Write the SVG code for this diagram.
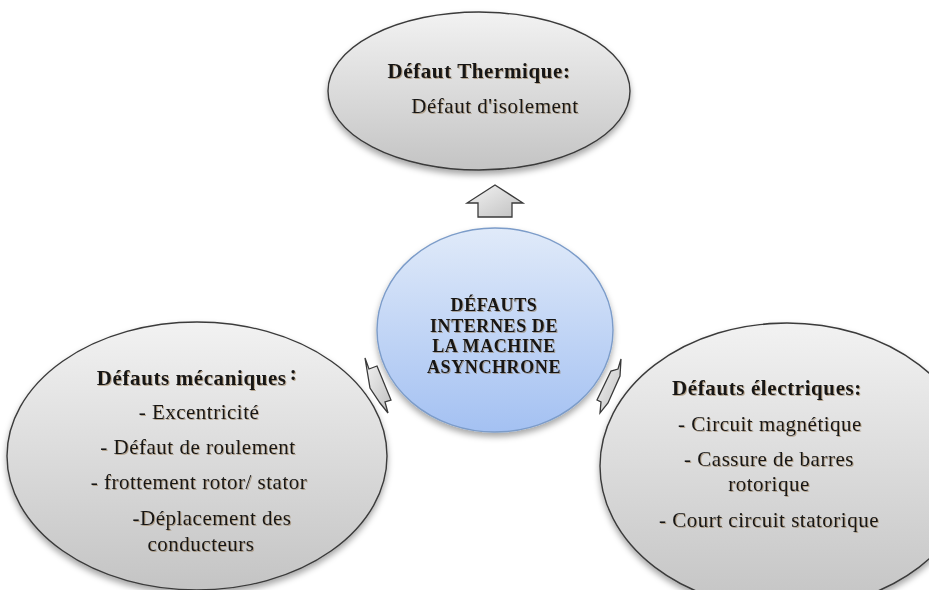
<svg xmlns="http://www.w3.org/2000/svg" width="929" height="590" viewBox="0 0 929 590">
<defs>
<linearGradient id="gGray" x1="0" y1="0" x2="0" y2="1">
<stop offset="0" stop-color="#f2f2f2"/>
<stop offset="1" stop-color="#c4c4c4"/>
</linearGradient>
<linearGradient id="gBlue" x1="0" y1="0" x2="0" y2="1">
<stop offset="0" stop-color="#e0eaf9"/>
<stop offset="1" stop-color="#a4c1f2"/>
</linearGradient>
<linearGradient id="gArrow" x1="0" y1="0" x2="1" y2="1">
<stop offset="0" stop-color="#f4f4f4"/>
<stop offset="1" stop-color="#c0c0c0"/>
</linearGradient>
<filter id="sh" x="-20%" y="-20%" width="140%" height="150%">
<feDropShadow dx="0" dy="4" stdDeviation="3" flood-color="#000" flood-opacity="0.35"/>
</filter>
<filter id="tsh" x="-5%" y="-30%" width="110%" height="160%">
<feDropShadow dx="1" dy="1" stdDeviation="0.6" flood-color="#8a6a40" flood-opacity="0.5"/>
</filter>
</defs>
<style>
.ell{fill:url(#gGray);stroke:#3a3a3a;stroke-width:1.4;filter:url(#sh)}
.ctr{fill:url(#gBlue);stroke:#7c9cc9;stroke-width:1.4;filter:url(#sh)}
.arr{fill:url(#gArrow);stroke:#3a3a3a;stroke-width:1.3;stroke-linejoin:miter}
text{font-family:"Liberation Serif","Times New Roman",serif;fill:#151515;text-anchor:middle;filter:url(#tsh)}
.t{font-size:21px;font-weight:bold;letter-spacing:0.6px}
.r{font-size:21px;letter-spacing:0.5px}
.c{font-size:18px;font-weight:bold;letter-spacing:0.6px}
</style>
<rect width="929" height="590" fill="#ffffff"/>
<g id="connectors">
<polygon class="arr" points="495,185 523,203 512,203 512,217 478,217 478,203 467,203"/>
<polygon class="arr" points="365,358 369,369 377,366 391,400 385,402 388,413 380,403 370,388"/>
<polygon class="arr" points="621,359 620,376 608,403 600,413 601,402 597,400 611,371 618,369"/>
</g>
<g id="node-thermique">
<ellipse class="ell" cx="479" cy="91" rx="151" ry="79"/>
<text class="t" x="479" y="78">Défaut Thermique:</text>
<text class="r" x="495" y="113">Défaut d'isolement</text>
</g>
<g id="node-mecaniques">
<ellipse class="ell" cx="197" cy="456" rx="190" ry="134"/>
<text class="t" x="197" y="385">Défauts mécaniques<tspan dx="3" dy="-5">:</tspan></text>
<text class="r" x="199" y="419">- Excentricité</text>
<text class="r" x="198" y="454">- Défaut de roulement</text>
<text class="r" x="199" y="489">-  frottement rotor/ stator</text>
<text class="r" x="212" y="525">-Déplacement des</text>
<text class="r" x="201" y="551">conducteurs</text>
</g>
<g id="node-electriques">
<ellipse class="ell" cx="787" cy="466" rx="187" ry="143"/>
<text class="t" x="767" y="395">Défauts électriques:</text>
<text class="r" x="770" y="431">- Circuit magnétique</text>
<text class="r" x="769" y="466">- Cassure de barres</text>
<text class="r" x="769" y="491">rotorique</text>
<text class="r" x="769" y="527">- Court circuit statorique</text>
</g>
<g id="node-center">
<ellipse class="ctr" cx="495" cy="330" rx="118" ry="102"/>
<text class="c" x="494" y="311">DÉFAUTS</text>
<text class="c" x="494" y="332">INTERNES DE</text>
<text class="c" x="494" y="352">LA MACHINE</text>
<text class="c" x="494" y="373">ASYNCHRONE</text>
</g>
</svg>
